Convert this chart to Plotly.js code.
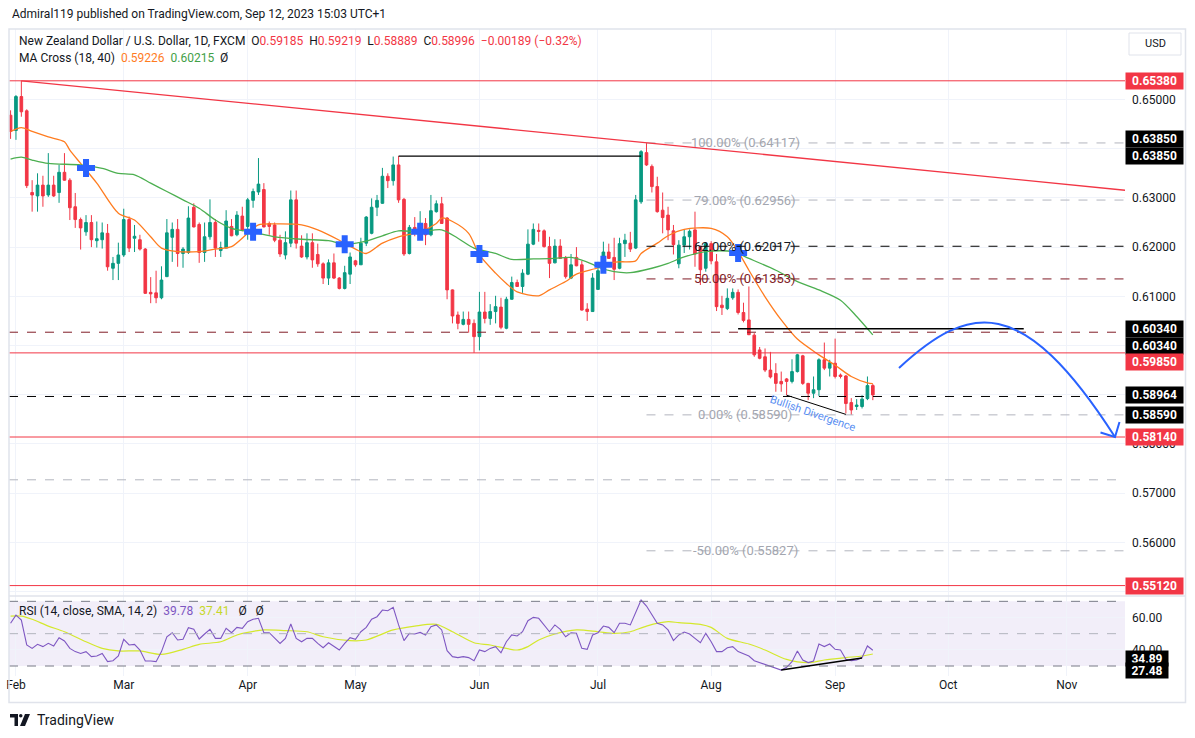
<!DOCTYPE html>
<html>
<head>
<meta charset="utf-8">
<script src="https://cdn.plot.ly/plotly-3.0.1.min.js"></script>
<style>
html,body{margin:0;padding:0;background:#ffffff;}
#chart{width:1195px;height:738px;}
</style>
</head>
<body>
<div id="chart"></div>
<script>
// ---------------- DATA ----------------
const firstBar = '2023-01-31';
const lastBar = '2023-09-12';

const opens = [0.6468,
0.6437,0.6506,0.6477,0.6311,0.6304,0.6326,0.6306,0.6326,0.6311,0.6352,0.6336,0.6282,0.6256,0.6231,0.6250,0.6213,0.6215,0.6228,0.6157,0.6167,
0.6184,0.6256,0.6218,0.6215,0.6196,0.6108,0.6107,0.6097,0.6140,0.6220,0.6236,0.6187,0.6189,0.6281,0.6246,0.6189,0.6221,0.6250,0.6193,0.6198,0.6242,0.6225,0.6263,
0.6242,0.6295,0.6312,0.6317,0.6248,0.6245,0.6214,0.6184,0.6208,0.6296,0.6202,0.6180,0.6209,0.6185,0.6166,0.6137,0.6168,0.6137,0.6116,0.6145,
0.6172,0.6164,0.6208,0.6228,0.6281,0.6289,0.6344,0.6335,0.6367,0.6297,0.6187,0.6240,0.6222,0.6248,0.6225,0.6272,0.6288,0.6259,0.6113,0.6062,0.6043,0.6053,0.6045,
0.6018,0.6068,0.6055,0.6069,0.6078,0.6035,0.6094,0.6128,0.6120,0.6145,0.6206,0.6234,0.6233,0.6201,0.6168,0.6202,0.6179,0.6137,0.6179,0.6164,0.6074,0.6069,
0.6114,0.6150,0.6190,0.6179,0.6157,0.6207,0.6208,0.6198,0.6292,0.6392,0.6364,0.6323,0.6275,0.6265,0.6233,0.6166,0.6204,0.6221,0.6235,0.6201,0.6157,
0.6207,0.6170,0.6082,0.6075,0.6097,0.6108,0.6067,0.6052,0.6021,0.5991,0.5977,0.5950,0.5943,0.5927,0.5932,0.5927,0.5947,0.5979,0.5923,0.5903,0.5910,0.5971,0.5954,
0.5964,0.5940,0.5938,0.5884,0.5876,0.5876,0.5892,0.59185];

const highs = [0.6478,
0.6509,0.6538,0.6480,0.6336,0.6350,0.6345,0.6391,0.6345,0.6367,0.6391,0.6340,0.6310,0.6260,0.6265,0.6265,0.6252,0.6250,0.6247,0.6180,0.6209,
0.6278,0.6262,0.6245,0.6225,0.6198,0.6139,0.6152,0.6161,0.6257,0.6250,0.6257,0.6200,0.6283,0.6289,0.6250,0.6250,0.6297,0.6257,0.6211,0.6275,0.6257,0.6273,0.6282,
0.6300,0.6319,0.6381,0.6330,0.6252,0.6250,0.6225,0.6232,0.6315,0.6315,0.6224,0.6228,0.6228,0.6207,0.6169,0.6175,0.6187,0.6139,0.6162,0.6189,
0.6174,0.6219,0.6263,0.6299,0.6306,0.6361,0.6350,0.6384,0.6385,0.6300,0.6245,0.6261,0.6273,0.6259,0.6306,0.6295,0.6302,0.6261,0.6114,0.6069,0.6069,0.6069,0.6053,
0.6109,0.6109,0.6084,0.6101,0.6097,0.6099,0.6140,0.6134,0.6155,0.6236,0.6248,0.6248,0.6236,0.6221,0.6216,0.6216,0.6182,0.6186,0.6200,0.6172,0.6086,0.6147,
0.6170,0.6211,0.6207,0.6219,0.6219,0.6227,0.6231,0.6306,0.6397,0.6412,0.6368,0.6343,0.6311,0.6282,0.6245,0.6214,0.6235,0.6236,0.6272,0.6203,0.6210,
0.6212,0.6186,0.6101,0.6116,0.6116,0.6114,0.6087,0.6120,0.6025,0.5997,0.5994,0.5987,0.5964,0.5947,0.5934,0.5972,0.5983,0.5981,0.5924,0.5937,0.5974,0.6006,0.5971,
0.6014,0.5943,0.5940,0.5893,0.5891,0.5899,0.5937,0.59219];

const lows = [0.6420,
0.6418,0.6465,0.6320,0.6272,0.6272,0.6282,0.6302,0.6302,0.6290,0.6335,0.6255,0.6239,0.6195,0.6223,0.6200,0.6199,0.6197,0.6152,0.6133,0.6133,
0.6180,0.6190,0.6190,0.6193,0.6105,0.6086,0.6086,0.6094,0.6139,0.6170,0.6160,0.6158,0.6186,0.6240,0.6168,0.6170,0.6215,0.6180,0.6180,0.6198,0.6222,0.6222,0.6232,
0.6215,0.6280,0.6306,0.6240,0.6225,0.6210,0.6180,0.6175,0.6200,0.6197,0.6178,0.6175,0.6158,0.6160,0.6125,0.6123,0.6135,0.6114,0.6114,0.6125,
0.6160,0.6164,0.6202,0.6226,0.6263,0.6288,0.6320,0.6325,0.6290,0.6182,0.6185,0.6222,0.6220,0.6204,0.6222,0.6270,0.6247,0.6094,0.6045,0.6033,0.6041,0.6026,0.5985,
0.5990,0.6045,0.6042,0.6045,0.6033,0.6033,0.6093,0.6119,0.6107,0.6143,0.6204,0.6211,0.6199,0.6137,0.6167,0.6176,0.6136,0.6135,0.6161,0.6071,0.6050,0.6069,
0.6114,0.6149,0.6176,0.6133,0.6155,0.6180,0.6190,0.6196,0.6288,0.6365,0.6311,0.6270,0.6228,0.6214,0.6185,0.6157,0.6188,0.6195,0.6160,0.6123,0.6150,
0.6165,0.6070,0.6062,0.6072,0.6093,0.6063,0.6047,0.6021,0.5977,0.5972,0.5946,0.5933,0.5906,0.5906,0.5899,0.5923,0.5945,0.5920,0.5889,0.5893,0.5897,0.5950,0.5937,
0.5933,0.5933,0.5862,0.5859,0.5869,0.5872,0.5889,0.58889];

const closes = [0.6435,
0.6506,0.6475,0.6325,0.6306,0.6326,0.6304,0.6326,0.6304,0.6352,0.6336,0.6280,0.6256,0.6239,0.6250,0.6215,0.6217,0.6229,0.6160,0.6167,0.6184,
0.6256,0.6198,0.6222,0.6196,0.6106,0.6105,0.6097,0.6133,0.6229,0.6236,0.6187,0.6196,0.6259,0.6241,0.6189,0.6221,0.6250,0.6198,0.6199,0.6253,0.6223,0.6265,0.6235,
0.6296,0.6313,0.6328,0.6241,0.6242,0.6214,0.6186,0.6209,0.6296,0.6208,0.6180,0.6209,0.6174,0.6166,0.6137,0.6168,0.6137,0.6116,0.6148,0.6180,
0.6164,0.6208,0.6261,0.6281,0.6295,0.6344,0.6335,0.6367,0.6296,0.6186,0.6240,0.6228,0.6248,0.6225,0.6274,0.6288,0.6248,0.6113,0.6060,0.6045,0.6053,0.6043,0.6018,
0.6068,0.6055,0.6069,0.6079,0.6037,0.6094,0.6128,0.6120,0.6147,0.6206,0.6236,0.6232,0.6201,0.6167,0.6202,0.6177,0.6140,0.6164,0.6162,0.6072,0.6069,0.6137,
0.6152,0.6190,0.6177,0.6155,0.6207,0.6214,0.6196,0.6296,0.6394,0.6367,0.6323,0.6272,0.6260,0.6235,0.6205,0.6204,0.6221,0.6232,0.6186,0.6154,0.6207,
0.6172,0.6079,0.6077,0.6096,0.6108,0.6067,0.6051,0.6022,0.5981,0.5974,0.5950,0.5936,0.5923,0.5922,0.5927,0.5947,0.5981,0.5923,0.5903,0.5910,0.5971,0.5954,0.5965,
0.5937,0.5937,0.5882,0.5869,0.5879,0.5891,0.59185,0.58996];

// MA Cross (18, 40)
const maFastDates = ['2023-01-31','2023-02-02','2023-02-06','2023-02-09','2023-02-14','2023-02-15','2023-02-17','2023-02-22','2023-02-28','2023-03-03','2023-03-08','2023-03-10','2023-03-15','2023-03-21','2023-03-24','2023-03-29','2023-04-03','2023-04-05','2023-04-10','2023-04-17','2023-04-20','2023-04-26','2023-05-01','2023-05-03','2023-05-08','2023-05-11','2023-05-17','2023-05-22','2023-05-23','2023-05-25','2023-05-30','2023-06-01','2023-06-06','2023-06-08','2023-06-12','2023-06-16','2023-06-20','2023-06-23','2023-06-27','2023-07-03','2023-07-05','2023-07-07','2023-07-12','2023-07-13','2023-07-18','2023-07-20','2023-07-25','2023-08-01','2023-08-04','2023-08-08','2023-08-10','2023-08-15','2023-08-18','2023-08-23','2023-08-29','2023-09-01','2023-09-06','2023-09-11','2023-09-12'];
const maFastValues = [0.6435,0.6443,0.6435,0.6424,0.6414,0.6397,0.6370,0.6330,0.6269,0.6255,0.6221,0.6198,0.6191,0.6191,0.6196,0.6201,0.6228,0.6245,0.6247,0.6245,0.6235,0.6214,0.6196,0.6187,0.6208,0.6221,0.6231,0.6248,0.6259,0.6252,0.6228,0.6184,0.6147,0.6126,0.6109,0.6101,0.6113,0.6130,0.6145,0.6158,0.6167,0.6170,0.6172,0.6187,0.6208,0.6223,0.6236,0.6238,0.6221,0.6191,0.6153,0.6099,0.6052,0.6013,0.5981,0.5960,0.5937,0.5924,0.59226];

const maSlowDates = ['2023-01-31','2023-02-02','2023-02-06','2023-02-09','2023-02-17','2023-02-23','2023-02-28','2023-03-03','2023-03-08','2023-03-13','2023-03-16','2023-03-21','2023-03-24','2023-03-29','2023-04-04','2023-04-10','2023-04-17','2023-04-24','2023-04-27','2023-05-03','2023-05-08','2023-05-11','2023-05-17','2023-05-23','2023-05-26','2023-05-31','2023-06-06','2023-06-09','2023-06-15','2023-06-21','2023-06-26','2023-06-30','2023-07-03','2023-07-06','2023-07-11','2023-07-17','2023-07-20','2023-07-25','2023-07-31','2023-08-07','2023-08-10','2023-08-17','2023-08-23','2023-08-29','2023-09-04','2023-09-07','2023-09-12'];
const maSlowValues = [0.6379,0.6383,0.6377,0.6370,0.6367,0.6360,0.6350,0.6347,0.6330,0.6313,0.6296,0.6279,0.6255,0.6238,0.6230,0.6221,0.6216,0.6213,0.6206,0.6212,0.6223,0.6233,0.6231,0.6235,0.6218,0.6198,0.6187,0.6175,0.6176,0.6177,0.6179,0.6165,0.6159,0.6150,0.6148,0.6157,0.6167,0.6180,0.6191,0.6191,0.6177,0.6153,0.6130,0.6113,0.6092,0.6059,0.60215];

// MA cross markers
const crossDates = ['2023-02-20','2023-04-04','2023-04-27','2023-05-17','2023-06-01','2023-07-04','2023-08-08'];
const crossPrices = [0.6361,0.6231,0.6206,0.6231,0.6186,0.6164,0.6188];

// RSI (14) one value per bar
const rsiValues = [56.4,
61.5,58.4,43.0,40.9,43.4,42.0,44.0,42.4,47.5,45.5,40.9,38.9,37.8,38.9,35.8,36.2,37.8,32.7,33.3,36.2,
46.5,43.0,43.4,39.9,33.1,33.1,32.7,38.9,48.1,50.6,46.1,46.5,53.7,52.7,46.7,49.8,52.7,47.1,47.1,53.3,50.6,53.9,53.3,
57.4,58.9,59.5,50.6,50.6,47.1,44.0,47.1,56.0,47.1,45.0,47.1,47.1,44.0,41.3,44.4,42.4,39.9,44.0,47.5,
46.5,51.2,53.9,58.9,60.5,64.6,64.2,66.3,55.4,45.7,50.2,49.8,50.8,49.2,54.3,55.4,52.3,39.5,35.8,35.2,35.8,35.2,33.3,
39.9,38.9,40.9,42.0,38.2,45.0,49.2,48.6,51.2,58.0,60.1,59.5,55.4,51.2,55.4,52.7,48.1,50.6,50.2,40.9,40.3,49.2,
50.6,54.7,53.9,50.6,56.4,56.4,55.4,63.6,70.8,67.1,61.5,56.4,55.4,52.3,45.7,49.2,51.0,49.8,47.1,44.4,50.2,
45.0,38.9,38.9,41.3,42.0,38.9,37.4,36.2,33.3,32.1,31.2,30.0,28.6,27.5,29.2,32.7,39.3,33.7,32.1,33.1,43.6,42.0,43.6,
40.3,39.9,34.1,33.3,33.7,35.2,42.4,39.78];

// RSI-based SMA (14) samples
const rsiMaDates = ['2023-01-31','2023-02-02','2023-02-06','2023-02-09','2023-02-14','2023-02-20','2023-02-23','2023-02-28','2023-03-06','2023-03-10','2023-03-16','2023-03-21','2023-03-27','2023-03-30','2023-04-03','2023-04-06','2023-04-12','2023-04-18','2023-04-21','2023-04-28','2023-05-03','2023-05-10','2023-05-16','2023-05-22','2023-05-25','2023-05-31','2023-06-05','2023-06-12','2023-06-14','2023-06-16','2023-06-21','2023-06-27','2023-07-03','2023-07-06','2023-07-11','2023-07-14','2023-07-20','2023-07-24','2023-07-28','2023-08-01','2023-08-04','2023-08-10','2023-08-15','2023-08-21','2023-08-25','2023-08-30','2023-09-05','2023-09-08','2023-09-12'];
const rsiMaValues = [60.9,60.9,58.9,54.7,51.2,45.0,40.9,39.3,39.3,37.2,40.3,43.4,45.0,49.2,50.8,52.3,51.9,51.2,48.1,45.7,46.1,52.3,54.7,55.8,51.2,44.4,43.0,39.9,42.0,46.1,49.8,52.3,51.2,50.2,51.2,54.7,57.4,56.8,55.8,53.9,47.1,43.6,39.9,34.1,32.1,33.7,35.2,36.2,37.41];

// Horizontal levels and drawings
const redLevels = [0.6538, 0.5985, 0.5814, 0.5512];
const maroonLevel = 0.6027;
const blackDashLevel = 0.58964;
const grayDashLevel = 0.5727;
const fibStart = '2023-07-14';
const fibPct = ['100.00%','79.00%','62.00%','50.00%','0.00%','-50.00%'];
const fibValues = [0.64117, 0.62956, 0.62017, 0.61353, 0.58590, 0.55827];
const resistDates = ['2023-05-11','2023-07-13']; const resistPrice = 0.6385;
const rayDates = ['2023-08-08','2023-10-20']; const rayPrice = 0.6034;
const trendDates = ['2023-02-02','2023-11-15 19:00']; const trendPrices = [0.6538, 0.63155];
const divDates = ['2023-08-21','2023-09-05']; const divPrices = [0.5899, 0.5860];
const rsiDivDates = ['2023-08-18','2023-09-08']; const rsiDivValues = [27.48, 34.89];
const tagValues = [0.6538, 0.6385, 0.6385, 0.6034, 0.6034, 0.5985, 0.58964, 0.5859, 0.5814, 0.5512];
const monthTicks = ['2023-02-01','2023-03-01','2023-04-03','2023-05-01','2023-06-01','2023-07-03','2023-08-01','2023-09-01','2023-10-02','2023-11-01'];
const monthLabels = ['Feb','Mar','Apr','May','Jun','Jul','Aug','Sep','Oct','Nov'];
const priceTicks = [0.55,0.56,0.57,0.58,0.59,0.60,0.61,0.62,0.63,0.64,0.65];
const hiddenTicks = [0.55,0.59,0.60,0.64];

// ---------------- BUILD ----------------
function businessDays(a, b) {
  const out = [];
  let d = new Date(a + 'T00:00:00Z');
  const e = new Date(b + 'T00:00:00Z');
  while (d <= e) {
    const w = d.getUTCDay();
    if (w !== 0 && w !== 6) out.push(d.toISOString().slice(0, 10));
    d = new Date(d.getTime() + 86400000);
  }
  return out;
}
const dates = businessDays(firstBar, lastBar);

const FONT = 'Roboto, "Liberation Sans", Arial, sans-serif';
const RED = '#f23645', GREEN = '#089981', ORANGE = '#ff7c1f', MAGREEN = '#4caf50';
const PURPLE = '#7e57c2', YELLOW = '#d4e82c', BLUE = '#2962ff', GRID = '#f0f3fa';
const MAROON = '#801b26', GRAYFIB = '#b2b5be', TXT = '#131722';

// plot geometry (pixels)
const PL = 9, PR = 1125, PT = 29, PB = 676, SPLIT = 596;
const px = v => (v - PL) / (PR - PL);
const py = v => (PB - v) / (PB - PT);
const rsiTop = py(SPLIT);
const xRange = ['2023-01-30 17:00', '2023-11-15 19:00'];

const traces = [
  {type:'candlestick', x:dates, open:opens, high:highs, low:lows, close:closes,
   xaxis:'x', yaxis:'y', whiskerwidth:0, hoverinfo:'skip',
   increasing:{line:{color:GREEN, width:1}, fillcolor:GREEN},
   decreasing:{line:{color:RED, width:1}, fillcolor:RED}},
  {type:'scatter', mode:'lines', x:maFastDates, y:maFastValues, xaxis:'x', yaxis:'y',
   line:{color:ORANGE, width:1.3, shape:'spline', smoothing:0.8}, hoverinfo:'skip'},
  {type:'scatter', mode:'lines', x:maSlowDates, y:maSlowValues, xaxis:'x', yaxis:'y',
   line:{color:MAGREEN, width:1.3, shape:'spline', smoothing:0.8}, hoverinfo:'skip'},
  {type:'scatter', mode:'markers', x:crossDates, y:crossPrices, xaxis:'x', yaxis:'y',
   marker:{symbol:'cross', size:15, color:BLUE, line:{width:0}}, hoverinfo:'skip'},
  {type:'scatter', mode:'lines', x:rsiMaDates, y:rsiMaValues, xaxis:'x', yaxis:'y2',
   line:{color:YELLOW, width:1.2, shape:'spline', smoothing:0.8}, hoverinfo:'skip'},
  {type:'scatter', mode:'lines', x:dates, y:rsiValues, xaxis:'x', yaxis:'y2',
   line:{color:PURPLE, width:1.1}, hoverinfo:'skip'}
];

const shapes = [];
// RSI band
shapes.push({type:'rect', xref:'paper', yref:'y2', x0:0, x1:1, y0:30, y1:70,
  fillcolor:'rgba(126,87,194,0.1)', line:{width:0}, layer:'below'});
[[70,'#787b86'],[50,'#b2b5be'],[30,'#787b86']].forEach(([v,c]) => shapes.push({type:'line', xref:'paper', yref:'y2', x0:0, x1:1, y0:v, y1:v, line:{color:c, width:1, dash:'dash'}}));
// full-width levels
redLevels.forEach(v => shapes.push({type:'line', xref:'paper', yref:'y', x0:0, x1:1, y0:v, y1:v, line:{color:RED, width:1}}));
shapes.push({type:'line', xref:'paper', yref:'y', x0:0, x1:1, y0:maroonLevel, y1:maroonLevel, line:{color:MAROON, width:1, dash:'dash'}});
shapes.push({type:'line', xref:'paper', yref:'y', x0:0, x1:1, y0:blackDashLevel, y1:blackDashLevel, line:{color:'#000', width:1, dash:'dash'}});
shapes.push({type:'line', xref:'paper', yref:'y', x0:0, x1:1, y0:grayDashLevel, y1:grayDashLevel, line:{color:GRAYFIB, width:1, dash:'dash'}});
// fib levels
const fibColors = [GRAYFIB, GRAYFIB, '#000000', MAROON, GRAYFIB, GRAYFIB];
fibValues.forEach((v,k) => shapes.push({type:'line', xref:'x', yref:'y', x0:fibStart, x1:xRange[1], y0:v, y1:v, line:{color:fibColors[k], width:1, dash:'dash'}}));
// black segments
shapes.push({type:'line', xref:'x', yref:'y', x0:resistDates[0], x1:resistDates[1], y0:resistPrice, y1:resistPrice, line:{color:'#000', width:1.3}});
shapes.push({type:'line', xref:'x', yref:'y', x0:rayDates[0], x1:rayDates[1], y0:rayPrice, y1:rayPrice, line:{color:'#000', width:1.3}});
// trendline
shapes.push({type:'line', xref:'x', yref:'y', x0:trendDates[0], x1:trendDates[1], y0:trendPrices[0], y1:trendPrices[1], line:{color:RED, width:1.3}});
// divergence lines
shapes.push({type:'line', xref:'x', yref:'y', x0:divDates[0], x1:divDates[1], y0:divPrices[0], y1:divPrices[1], line:{color:'#000', width:1}});
shapes.push({type:'line', xref:'x', yref:'y2', x0:rsiDivDates[0], x1:rsiDivDates[1], y0:rsiDivValues[0], y1:rsiDivValues[1], line:{color:'#000', width:1.5}});
// projected path arc + arrow head
shapes.push({type:'path', xref:'paper', yref:'paper',
  path:`M ${px(899)},${py(368)} C ${px(969)},${py(303.6)} ${px(1022)},${py(292)} ${px(1115)},${py(437)}`,
  line:{color:BLUE, width:2}});
shapes.push({type:'path', xref:'paper', yref:'paper',
  path:`M ${px(1100.5)},${py(432.5)} L ${px(1115)},${py(437)} L ${px(1119.5)},${py(422)}`,
  line:{color:BLUE, width:2}});
// frame
shapes.push({type:'line', xref:'paper', yref:'paper', x0:px(9), x1:px(1185), y0:rsiTop, y1:rsiTop, line:{color:'#e0e3eb', width:1.5}});
shapes.push({type:'rect', xref:'paper', yref:'paper', x0:px(9), x1:px(1185.5), y0:py(29), y1:py(702.5), line:{color:'#e0e3eb', width:1.5}, fillcolor:'rgba(0,0,0,0)'});
// USD box
shapes.push({type:'rect', xref:'paper', yref:'paper', x0:px(1129), x1:px(1181), y0:py(33), y1:py(55), line:{color:'#e0e3eb', width:1}, fillcolor:'#fff'});
// TradingView logo
shapes.push({type:'path', xref:'paper', yref:'paper', path:`M ${px(10)},${py(714)} L ${px(18)},${py(714)} L ${px(18)},${py(726)} L ${px(14.5)},${py(726)} L ${px(14.5)},${py(717.5)} L ${px(10)},${py(717.5)} Z`, fillcolor:'#131722', line:{width:0}});
shapes.push({type:'circle', xref:'paper', yref:'paper', x0:px(19), x1:px(22.5), y0:py(714), y1:py(717.5), fillcolor:'#131722', line:{width:0}});
shapes.push({type:'path', xref:'paper', yref:'paper', path:`M ${px(25)},${py(714)} L ${px(30)},${py(714)} L ${px(25)},${py(726)} L ${px(20)},${py(726)} Z`, fillcolor:'#131722', line:{width:0}});

// ---------------- ANNOTATIONS ----------------
const ann = [];
const nb = '\u00a0';
const last = closes.length - 1;
const chg = closes[last] - closes[last-1];
const pct = chg / closes[last-1] * 100;
const minus = s => s.replace('-', '\u2212');
const rs = t => `<span style="color:${RED}">${t}</span>`;
const textAt = (x, y, text, size, color, anchor) => ann.push({xref:'paper', yref:'paper', x:px(x), y:py(y), xanchor:anchor||'left', yanchor:'middle', text, showarrow:false, font:{family:FONT, size, color}});

textAt(10, 14, 'Admiral119 published on TradingView.com, Sep 12, 2023 15:03 UTC+1', 12, TXT);
textAt(17, 41, `New Zealand Dollar / U.S. Dollar, 1D, FXCM${nb}${nb}O${rs(opens[last].toFixed(5))}${nb}${nb}H${rs(highs[last].toFixed(5))}${nb}${nb}L${rs(lows[last].toFixed(5))}${nb}${nb}C${rs(closes[last].toFixed(5))}${nb}${nb}${rs(minus(chg.toFixed(5)) + ' (' + minus(pct.toFixed(2)) + '%)')}`, 12, TXT);
textAt(17, 58, `MA Cross (18, 40)${nb}${nb}<span style="color:${ORANGE}">${maFastValues[maFastValues.length-1].toFixed(5)}</span>${nb}${nb}<span style="color:#43a047">${maSlowValues[maSlowValues.length-1].toFixed(5)}</span>${nb}${nb}Ø`, 12, TXT);
textAt(17, 611, `RSI (14, close, SMA, 14, 2)${nb}${nb}<span style="color:${PURPLE}">${rsiValues[rsiValues.length-1].toFixed(2)}</span>${nb}${nb}<span style="color:#c6d82a">${rsiMaValues[rsiMaValues.length-1].toFixed(2)}</span>${nb}${nb}${nb}Ø${nb}${nb}${nb}Ø`, 12, TXT);
textAt(1155, 44, 'USD', 11, TXT, 'center');
textAt(35, 720, 'TradingView', 14, TXT);

// fib labels
const fibTextColors = ['#a3a6af','#a3a6af', TXT, MAROON, '#a3a6af','#a3a6af'];
fibValues.forEach((v,k) => ann.push({xref:'paper', yref:'y', x:px(745), y:v, xanchor:'center', yanchor:'middle', showarrow:false,
  text:`${fibPct[k]} (${v.toFixed(5)})`, font:{family:FONT, size:13, color:fibTextColors[k]}}));

// Bullish divergence text
ann.push({xref:'paper', yref:'paper', x:px(813), y:py(413), xanchor:'center', yanchor:'middle', showarrow:false, textangle:19,
  text:'Bullish Divergence', font:{family:FONT, size:11, color:'#5b8ff2'}});

// price tags on the scale
const tagColors = [RED,'#000','#000','#000','#000',RED,'#000','#000',RED,RED];
const tagShift = [0,17,0,0,-17,-9,1,0,0,0];
tagValues.forEach((v,k) => ann.push({xref:'paper', yref:'y', x:1, y:v, xanchor:'left', yanchor:'middle', yshift:tagShift[k], showarrow:false,
  text:`<b>${v.toFixed(5)}</b>`, font:{family:FONT, size:12, color:'#ffffff'}, bgcolor:tagColors[k], borderpad:2, width:53, height:12}));
rsiDivValues.slice().reverse().forEach((v,k) => ann.push({xref:'paper', yref:'y2', x:1, y:v, xanchor:'left', yanchor:'middle', showarrow:false,
  text:`<b>${v.toFixed(2)}</b>`, font:{family:FONT, size:12, color:'#ffffff'}, bgcolor:'#000', borderpad:2, width:38, height:11}));

const layout = {
  width:1195, height:738,
  margin:{l:PL, r:1195-PR, t:PT, b:738-PB},
  paper_bgcolor:'#ffffff', plot_bgcolor:'#ffffff',
  showlegend:false, hovermode:false, dragmode:false,
  font:{family:FONT, size:12, color:TXT},
  xaxis:{type:'date', range:xRange, anchor:'y2', rangebreaks:[{bounds:['sat','mon']}],
    rangeslider:{visible:false}, tickmode:'array', tickvals:monthTicks, ticktext:monthLabels,
    showgrid:true, gridcolor:GRID, gridwidth:1, zeroline:false, showline:false, ticks:'',
    tickfont:{family:FONT, size:12, color:TXT}},
  yaxis:{domain:[rsiTop, 1], range:[0.549085, 0.664329], side:'right', anchor:'x',
    tickmode:'array', tickvals:priceTicks, ticktext:priceTicks.map(v => hiddenTicks.includes(v) ? '' : v.toFixed(5)),
    showgrid:true, gridcolor:GRID, zeroline:false, showline:false, ticks:'', ticklabelstandoff:6,
    tickfont:{family:FONT, size:12, color:TXT}},
  yaxis2:{domain:[0, rsiTop], range:[23.82, 73.3], side:'right', anchor:'x',
    tickmode:'array', tickvals:[40,60], ticktext:['40.00','60.00'],
    showgrid:true, gridcolor:GRID, zeroline:false, showline:false, ticks:'', ticklabelstandoff:6,
    tickfont:{family:FONT, size:12, color:TXT}},
  shapes, annotations:ann
};

Plotly.newPlot('chart', traces, layout, {staticPlot:true, displayModeBar:false});
</script>
</body>
</html>
